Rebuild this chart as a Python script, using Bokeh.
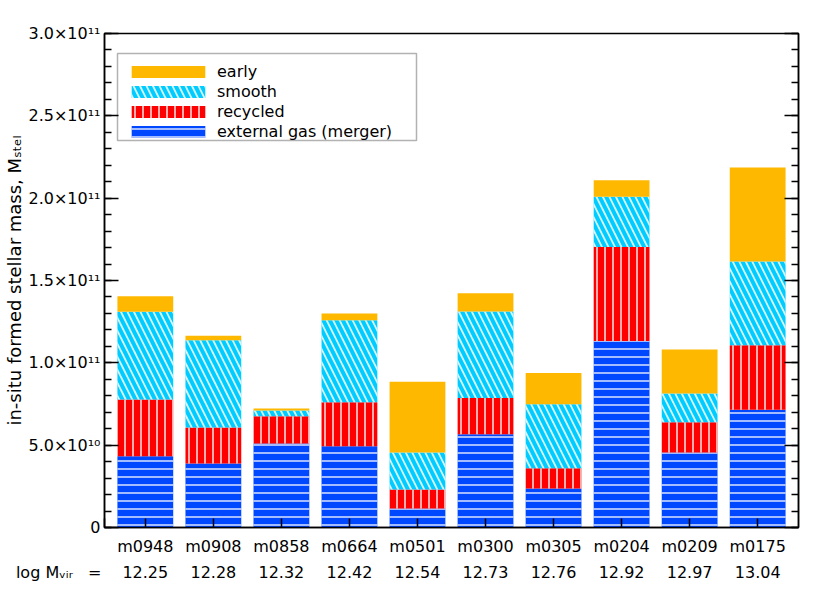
from bokeh.plotting import figure
from bokeh.models import (Range1d, FixedTicker, LinearAxis, Legend,
                          LegendItem, BoxAnnotation, ColumnDataSource)
from bokeh.embed import file_html
from bokeh.resources import INLINE

# ---- data (stellar masses in units of 1e10 Msun) ----
halos = ["m0948", "m0908", "m0858", "m0664", "m0501",
         "m0300", "m0305", "m0204", "m0209", "m0175"]
log_mvir = ["12.25", "12.28", "12.32", "12.42", "12.54",
            "12.73", "12.76", "12.92", "12.97", "13.04"]
external_gas = [4.33, 3.89, 5.10, 4.94, 1.15, 5.67, 2.37, 11.33, 4.55, 7.15]
recycled = [3.44, 2.18, 1.66, 2.67, 1.16, 2.20, 1.23, 5.71, 1.84, 3.92]
smooth = [5.33, 5.30, 0.34, 4.98, 2.24, 5.24, 3.89, 3.04, 1.75, 5.08]
early = [0.94, 0.27, 0.13, 0.40, 4.30, 1.12, 1.90, 1.01, 2.67, 5.71]
unit = 1e10

y_ticks = [0, 5e10, 1e11, 1.5e11, 2e11, 2.5e11, 3e11]
y_tick_labels = ["0", "5.0×10¹⁰", "1.0×10¹¹", "1.5×10¹¹",
                 "2.0×10¹¹", "2.5×10¹¹", "3.0×10¹¹"]
y_minor = [i * 1e10 for i in range(0, 31)]
y_title = "in-situ formed stellar mass, Mₛₜₑₗ"
row_title = "log Mᵥᵢᵣ\u00a0\u00a0\u00a0="

series = ["gas", "recycled", "smooth", "early"]
series_labels = ["external gas (merger)", "recycled", "smooth", "early"]
colors = ["#0048FF", "#FF0000", "#00CCFF", "#FFB800"]

FONT = "DejaVu Sans"
X0 = 0.4

xs = list(range(1, len(halos) + 1))
src = ColumnDataSource(dict(
    x=xs,
    gas=[v * unit for v in external_gas],
    recycled=[v * unit for v in recycled],
    smooth=[v * unit for v in smooth],
    early=[v * unit for v in early],
))

p = figure(width=830, height=593, x_range=Range1d(X0, 10.6),
           y_range=Range1d(0, 3e11), output_backend="svg",
           toolbar_location=None, min_border_left=104, min_border_right=32,
           min_border_top=33, min_border_bottom=66)
p.xgrid.visible = False
p.ygrid.visible = False
p.outline_line_color = "black"
p.outline_line_width = 1.5
p.background_fill_color = "white"
p.border_fill_color = "white"

rends = p.vbar_stack(series, x="x", width=0.82, source=src,
                     fill_color=colors, line_color=None,
                     hatch_pattern=["horizontal_line", "vertical_line",
                                    "left_diagonal_line", " "],
                     hatch_scale=[8, 8, 13, 8],
                     hatch_weight=[1.5, 1.6, 1.8, 1],
                     hatch_color="white", hatch_alpha=0.85)

# y axis (left)
ya = p.yaxis[0]
ya.ticker = FixedTicker(ticks=y_ticks, minor_ticks=y_minor)
ya.major_label_overrides = {t: l for t, l in zip(y_ticks, y_tick_labels)}
ya.major_tick_in = 14
ya.major_tick_out = 0
ya.minor_tick_in = 7
ya.minor_tick_out = 0
ya.axis_line_width = 1.5
ya.major_tick_line_width = 1.5
ya.minor_tick_line_width = 1.5
ya.major_label_standoff = 4
ya.major_label_text_font = FONT
ya.major_label_text_font_size = "16px"
ya.major_label_text_color = "black"
ya.axis_label = y_title
ya.axis_label_text_font = FONT
ya.axis_label_text_font_size = "18px"
ya.axis_label_text_font_style = "normal"
ya.axis_label_text_color = "black"
ya.axis_label_standoff = 0

# right axis mirror
ra = LinearAxis(ticker=FixedTicker(ticks=y_ticks, minor_ticks=y_minor),
                major_label_overrides={t: "" for t in y_ticks},
                major_tick_in=14, major_tick_out=0, minor_tick_in=7,
                minor_tick_out=0, axis_line_width=1.5,
                major_tick_line_width=1.5, minor_tick_line_width=1.5,
                major_label_standoff=0)
p.add_layout(ra, "right")

# x axis (bottom): halo name + log Mvir, plus the row title at the frame edge
pad = "\u00a0" * 18
x_labels = {x: f"{h}\n{m}" for x, h, m in zip(xs, halos, log_mvir)}
x_labels[X0] = "\u00a0\n" + row_title + pad
xa = p.xaxis[0]
xa.ticker = FixedTicker(ticks=[X0] + xs, minor_ticks=[])
xa.major_label_overrides = x_labels
xa.major_tick_in = 9
xa.major_tick_out = 0
xa.minor_tick_in = 0
xa.minor_tick_out = 0
xa.axis_line_width = 1.5
xa.major_tick_line_width = 1.5
xa.major_label_standoff = 9
xa.major_label_text_font = FONT
xa.major_label_text_font_size = "16px"
xa.major_label_text_line_height = 1.38
xa.major_label_text_color = "black"

# legend frame
p.add_layout(BoxAnnotation(left=13, right=312, top=474, bottom=387,
                           left_units="screen", right_units="screen",
                           top_units="screen", bottom_units="screen",
                           fill_color=None, line_color="black",
                           line_width=1.5, level="overlay"))

items = [LegendItem(label=lab, renderers=[r])
         for lab, r in zip(series_labels, rends)][::-1]
leg = Legend(items=items, location=(18, 386), orientation="vertical",
             glyph_width=92, glyph_height=15, label_height=20,
             label_standoff=3, spacing=0, padding=4, margin=0,
             border_line_color=None, background_fill_alpha=0,
             label_text_font=FONT, label_text_font_size="16px",
             label_text_color="black")
p.add_layout(leg)

open("out.html", "w").write(file_html(p, INLINE))
